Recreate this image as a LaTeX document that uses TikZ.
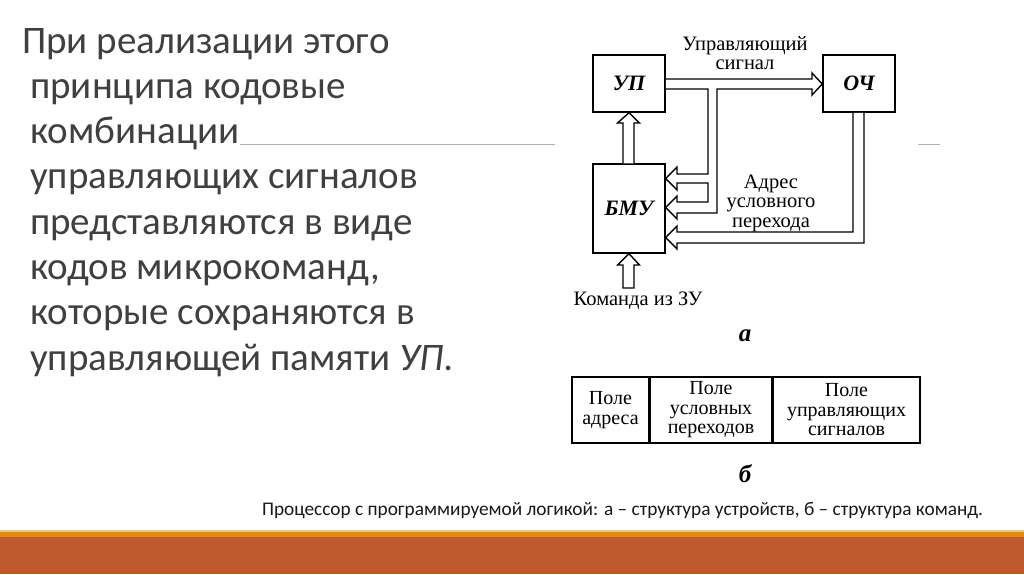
\documentclass[tikz,border=0pt]{standalone}
\usepackage{fontspec}
\setmainfont{Liberation Serif}
\newfontfamily\slidefont{Carlito}
\definecolor{slidegray}{HTML}{404040}
\definecolor{rulegray}{HTML}{B0B0B0}
\definecolor{barorange}{HTML}{E3871E}
\definecolor{barlight}{HTML}{F4C27E}
\definecolor{barbrown}{HTML}{BC5A2E}
\begin{document}
\begin{tikzpicture}[x=1pt,y=-1pt,line join=miter,
  box/.style={draw,line width=1.5pt,minimum width=72pt,minimum height=57pt,inner sep=0pt,
    font=\fontsize{22}{22}\selectfont\bfseries\itshape},
  bus/.style={draw,line width=1.4pt,fill=white},
  lbl/.style={font=\fontsize{20.5}{19.5}\selectfont,align=center,inner sep=0pt},
  field/.style={draw,line width=1.5pt,minimum height=66pt,inner sep=0pt,align=center,
    font=\fontsize{20}{19.5}\selectfont},
  slide/.style={font=\slidefont\fontsize{39}{39}\selectfont,text=slidegray,inner sep=0pt,anchor=base west},
  sub/.style={font=\fontsize{25}{25}\selectfont\bfseries\itshape,inner sep=0pt}]
\fill[white] (0,0) rectangle (1024,574);
\useasboundingbox (0,0) rectangle (1024,574);
% bottom bars
\fill[barbrown] (0,537) rectangle (1024,574);
\fill[barorange] (0,531) rectangle (1024,537);
\fill[barlight] (0,530) rectangle (1024,531.5);
% thin gray rules
\draw[rulegray,line width=0.8pt] (240,144.5) -- (555,144.5);
\draw[rulegray,line width=0.8pt] (918,144.5) -- (940,144.5);
% left text
\foreach \t [count=\i] in {При реализации этого,принципа кодовые,комбинации,управляющих сигналов,представляются в виде,{кодов микрокоманд,},которые сохраняются в,управляющей памяти \textit{УП.}}{
  \pgfmathsetmacro{\yy}{53+45.3*(\i-1)}
  \pgfmathsetmacro{\xx}{\i==1 ? 22 : 30}
  \node[slide] (t\i) at (\xx,\yy) {\t};
}
% boxes
\node[box] (up) at (629,83.5) {УП};
\node[box] (och) at (859,83.5) {ОЧ};
\node[box,minimum height=89pt] (bmu) at (629,208.5) {БМУ};
% bus: UP -> OCh with branch to BMU (two arrows)
\draw[bus] (up.east |- 0,79) -- (812,79) -- (812,73) -- (och.west |- 0,84) -- (812,95) -- (812,89)
  -- (717,89) -- (717,213) -- (677,213) -- (677,219) -- (bmu.east |- 0,207.5) -- (677,196) -- (677,202)
  -- (708,202) -- (708,183) -- (677,183) -- (677,190) -- (bmu.east |- 0,178.5) -- (677,167) -- (677,174)
  -- (708,174) -- (708,89) -- (up.east |- 0,89);
% bus: OCh -> BMU
\draw[bus] (och.south -| 853,0) -- (853,232) -- (677,232) -- (677,226) -- (bmu.east |- 0,237.5)
  -- (677,249) -- (677,243) -- (864,243) -- (och.south -| 864,0);
% bus: BMU -> UP
\draw[bus] (bmu.north -| 623,0) -- (623,123) -- (617.5,123) -- (up.south) -- (639.5,123) -- (634,123) -- (bmu.north -| 634,0);
% command input
\coordinate (cmd) at (628.5,288);
\draw[bus] (cmd) ++(-5.5,0) -- (623,265) -- (617.5,265) -- (bmu.south) -- (639.5,265) -- (634,265) -- (634,288) -- cycle;
% labels
\node[lbl] (lsig) at (745,53) {Управляющий\\сигнал};
\node[lbl] (laddr) at (771,203) {Адрес\\условного\\перехода};
\node[lbl] (lcmd) at (638,301) {Команда из ЗУ};
\node[sub] (la) at (745,336) {а};
% instruction format
\node[field,minimum width=77pt] (f1) at (610.5,410) {Поле\\адреса};
\node[field,minimum width=121pt,anchor=west] (f2) at (f1.east) {Поле\\условных\\переходов};
\node[field,minimum width=147pt,anchor=west] (f3) at (f2.east) {Поле\\управляющих\\сигналов};
\node[sub] (lb) at (745,474) {б};
% caption
\node[font=\slidefont\fontsize{19.3}{19.3}\selectfont,text=black!90,inner sep=0pt,anchor=base] (cap) at (622.5,515)
  {Процессор с программируемой логикой: а – структура устройств, б – структура команд.};
\end{tikzpicture}
\end{document}
